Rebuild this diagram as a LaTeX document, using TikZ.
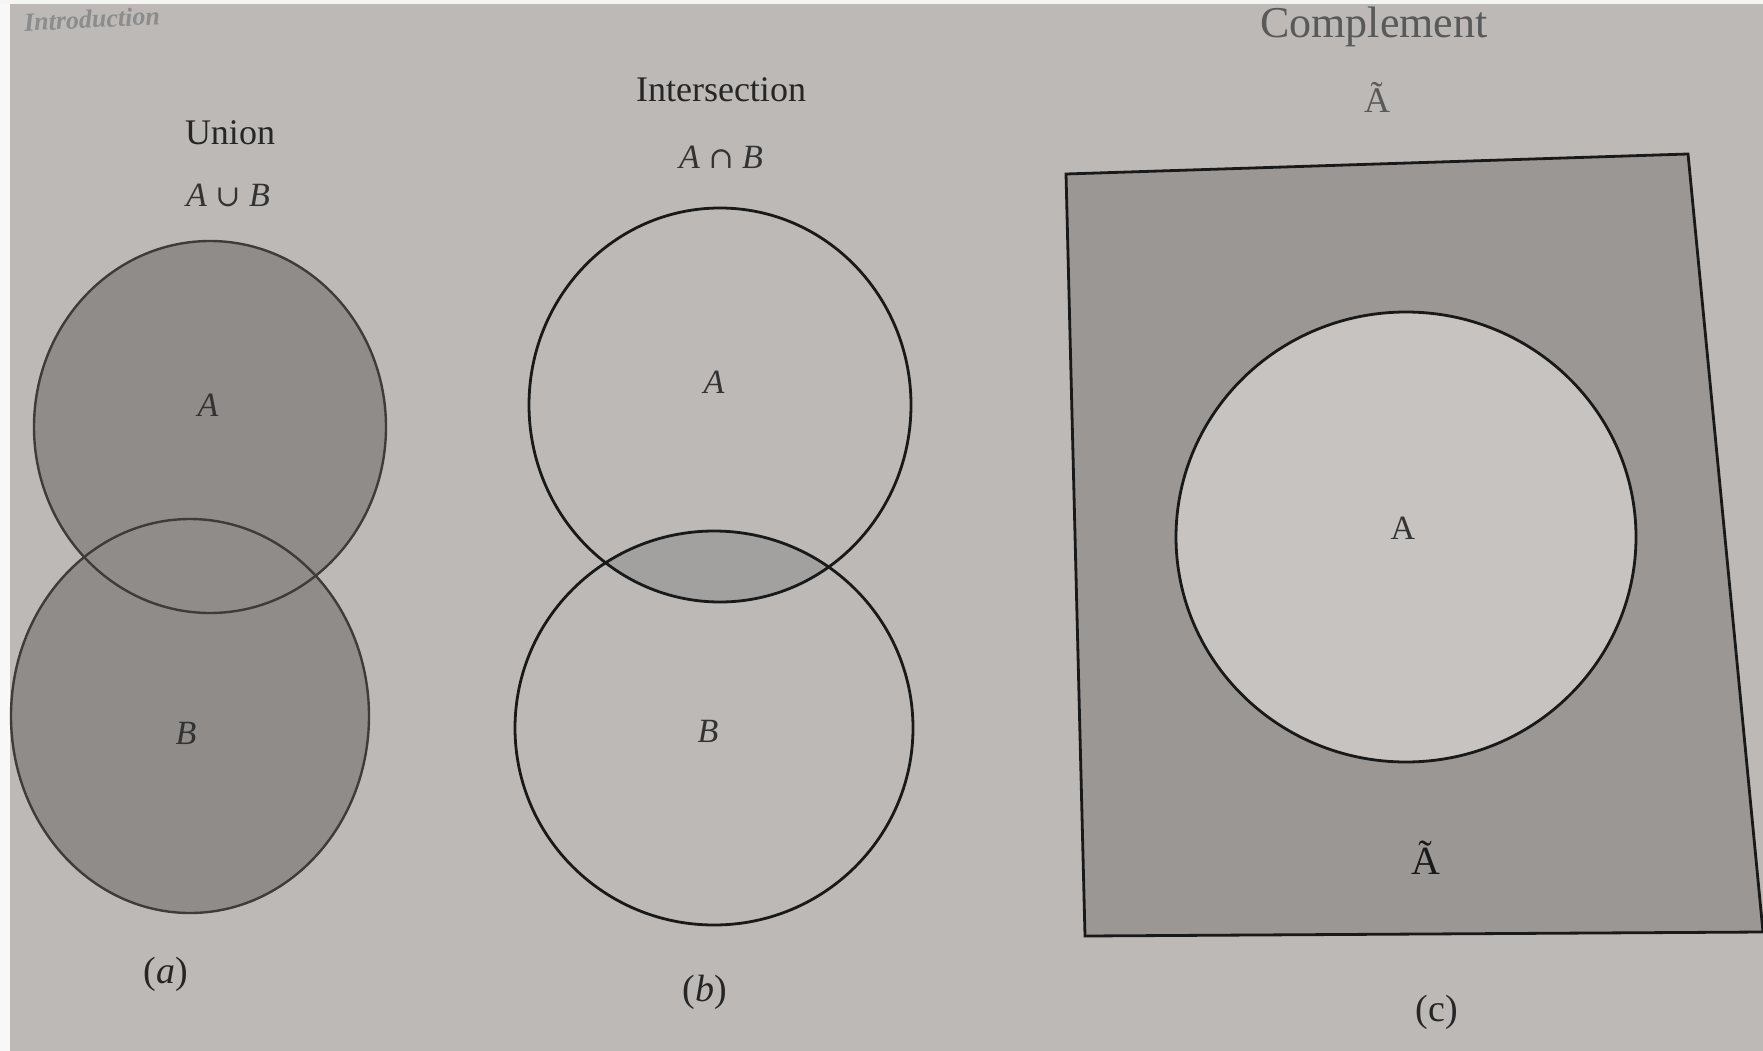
\documentclass[tikz,border=0pt]{standalone}
\usepackage{fontspec}
\setmainfont{Liberation Serif}
\newfontfamily\opsym{DejaVu Serif}
\definecolor{paper}{HTML}{BDB9B6}
\definecolor{shadeA}{HTML}{908C8A}
\definecolor{shadeC}{HTML}{9A9795}
\definecolor{lens}{HTML}{A3A19F}
\definecolor{hole}{HTML}{C6C3C0}
\definecolor{inkgray}{HTML}{3E3C3B}
\tikzset{
  title/.style={font=\fontsize{36}{40}\selectfont, text=black!85},
  formula/.style={font=\fontsize{34}{38}\selectfont, text=black!80},
  setlabel/.style={font=\fontsize{34}{38}\selectfont\itshape, text=black!80},
  caption/.style={font=\fontsize{38}{42}\selectfont, text=black!85},
  outlineA/.style={draw=inkgray, line width=2.4pt},
  outlineB/.style={draw=black!90, line width=2.8pt}
}
\begin{document}
\begin{tikzpicture}[x=1pt,y=-1pt]
\useasboundingbox (0,0) rectangle (1763,1051);
\fill[paper] (0,0) rectangle (1763,1051);
\fill[white!90!paper] (0,0) rectangle (10,1051);
\fill[white!85!paper] (0,0) rectangle (1763,4);

% running head
\node[font=\fontsize{26}{28}\selectfont\bfseries\itshape, text=black!45, rotate=3] (head) at (92,19) {Introduction};

% ---------- (a) Union ----------
\fill[shadeA] (210,427) ellipse [x radius=176, y radius=186];
\fill[shadeA] (190,716) ellipse [x radius=179, y radius=197];
\draw[outlineA] (210,427) ellipse [x radius=176, y radius=186];
\draw[outlineA] (190,716) ellipse [x radius=179, y radius=197];
\node[title] (tU) at (230,133) {Union};
\node[formula] (fU) at (228,195) {\textit{A} {\opsym\fontsize{30}{34}\selectfont ∪} \textit{B}};
\node[setlabel] (aA) at (208,405) {A};
\node[setlabel] (aB) at (186,733) {B};
\node[caption] (capa) at (166,974) {(\textit{a})};

% ---------- (b) Intersection ----------
\begin{scope}
  \clip (720,405) ellipse [x radius=191, y radius=197];
  \fill[lens] (714,728) ellipse [x radius=199, y radius=197];
\end{scope}
\draw[outlineB] (720,405) ellipse [x radius=191, y radius=197];
\draw[outlineB] (714,728) ellipse [x radius=199, y radius=197];
\node[title] (tI) at (721,90) {Intersection};
\node[formula] (fI) at (721,157) {\textit{A} {\opsym\fontsize{30}{34}\selectfont ∩} \textit{B}};
\node[setlabel] (bA) at (714,382) {A};
\node[setlabel] (bB) at (708,731) {B};
\node[caption] (capb) at (705,992) {(\textit{b})};

% ---------- (c) Complement ----------
\fill[shadeC] (1066,174) -- (1688,154) -- (1763,932) -- (1085,936) -- cycle;
\fill[hole] (1406,537) ellipse [x radius=230, y radius=225];
\draw[outlineB] (1406,537) ellipse [x radius=230, y radius=225];
\draw[outlineB] (1066,174) -- (1688,154) -- (1763,932) -- (1085,936) -- cycle;
\node[font=\fontsize{44}{48}\selectfont, text=black!65] (tC) at (1374,27) {Complement};
\node[font=\fontsize{36}{40}\selectfont, text=black!65] (fC) at (1377,97) {Ã};
\node[font=\fontsize{34}{38}\selectfont, text=black!80] (cA) at (1403,528) {A};
\node[font=\fontsize{40}{44}\selectfont, text=black!90] (cAt) at (1426,858) {Ã};
\node[caption] (capc) at (1437,1012) {(c)};
\end{tikzpicture}
\end{document}
